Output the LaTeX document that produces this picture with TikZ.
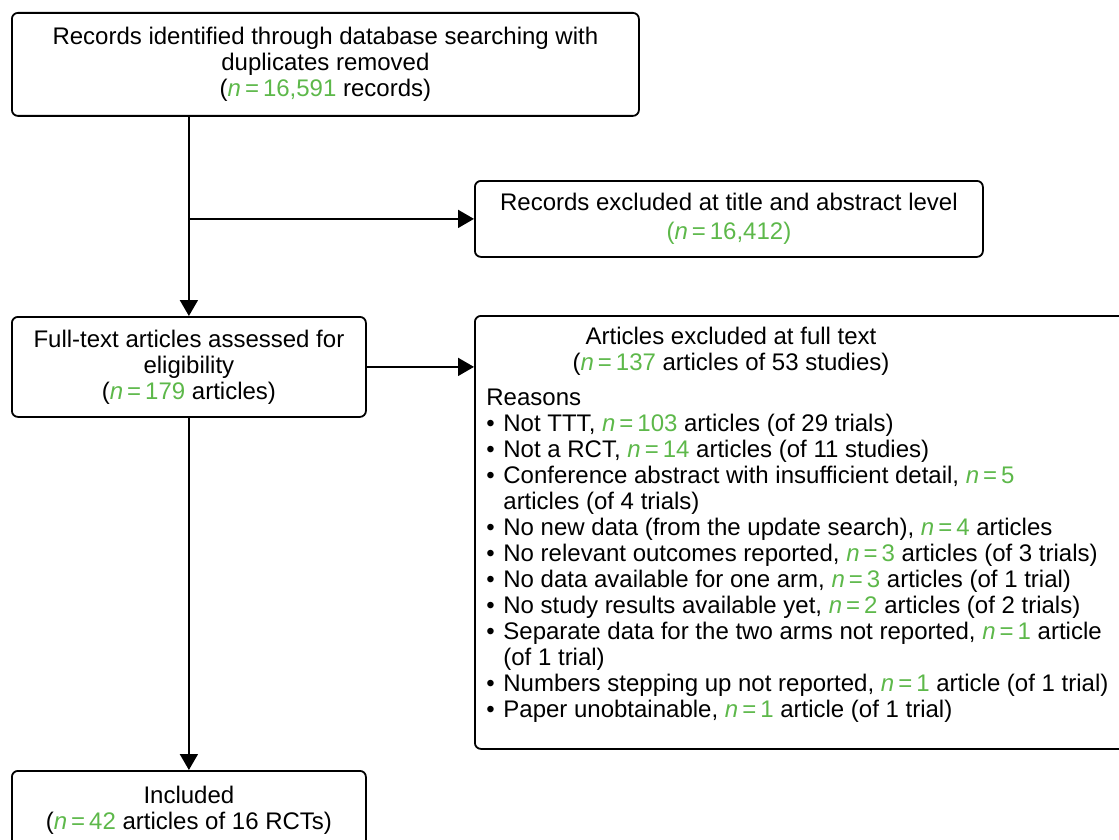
\documentclass[tikz,border=0pt]{standalone}
\usepackage{fontspec}
\setmainfont{Liberation Sans}
\usepackage{xcolor}
\usetikzlibrary{positioning,arrows.meta}
\definecolor{ngreen}{HTML}{5DB84A}
\newcommand{\nval}[1]{\textcolor{ngreen}{\textit{n}\,=\,#1}}
\newcommand{\bul}{\makebox[8.5pt][l]{\textbullet}}

\begin{document}
\begin{tikzpicture}[x=0.5pt,y=-0.5pt,
    box/.style={draw,rounded corners=3pt,line width=0.9pt,anchor=north west,align=center,inner sep=0pt},
    arr/.style={line width=0.9pt,-{Triangle[width=9pt,length=8pt]}},
    font=\fontsize{12}{13}\selectfont]
  \path[use as bounding box,clip] (0,0) rectangle (1119,840);
  % boxes
  \node (A) [box,minimum width=313.5pt,minimum height=51.5pt] at (11,12) {Records identified through database searching with\\duplicates removed\\(\nval{16,591} records)};
  \node (B) [box,minimum width=254pt,minimum height=38pt] at (474,180) {Records excluded at title and abstract level\\[1.5pt]\textcolor{ngreen}{(\textit{n}\,=\,16,412)}};
  \node (C) [box,minimum width=177pt,minimum height=50pt] at (11,316) {Full-text articles assessed for\\eligibility\\(\nval{179} articles)};
  \node (D) [box,minimum width=330pt,minimum height=216.5pt] at (474,315) {};
  \node (Dhead) [align=center] at (731,351) {Articles excluded at full text\\(\nval{137} articles of 53 studies)};
  \node (Dlist) [anchor=north west,align=left,inner sep=0pt] at (486,389) {Reasons\\
    \bul Not TTT, \nval{103} articles (of 29 trials)\\
    \bul Not a RCT, \nval{14} articles (of 11 studies)\\
    \bul Conference abstract with insufficient detail, \nval{5}\\
    \hspace*{8.5pt}articles (of 4 trials)\\
    \bul No new data (from the update search), \nval{4} articles\\
    \bul No relevant outcomes reported, \nval{3} articles (of 3 trials)\\
    \bul No data available for one arm, \nval{3} articles (of 1 trial)\\
    \bul No study results available yet, \nval{2} articles (of 2 trials)\\
    \bul Separate data for the two arms not reported, \nval{1} article\\
    \hspace*{8.5pt}(of 1 trial)\\
    \bul Numbers stepping up not reported, \nval{1} article (of 1 trial)\\
    \bul Paper unobtainable, \nval{1} article (of 1 trial)};
  \node (E) [box,minimum width=177pt,minimum height=39pt] at (11,770) {Included\\(\nval{42} articles of 16 RCTs)};
  % connectors
  \draw[arr] (C.north |- A.south) -- (C.north);
  \draw[arr] (C.north |- B.west) -- (B.west);
  \draw[arr] (C.east) -- (C.east -| D.west);
  \draw[arr] (C.south) -- (E.north);
\end{tikzpicture}
\end{document}
